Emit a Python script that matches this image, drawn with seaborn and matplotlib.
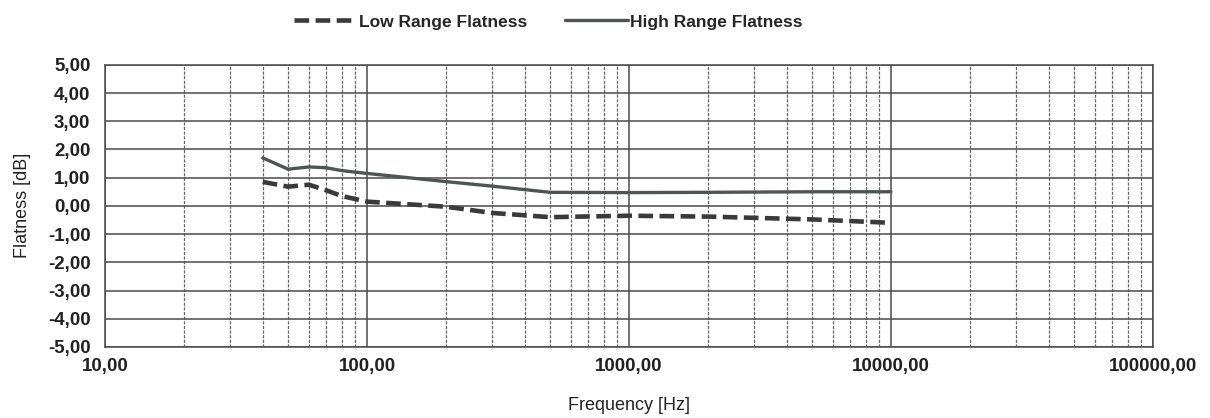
import numpy as np
import pandas as pd
import matplotlib
matplotlib.use("Agg")
import matplotlib.pyplot as plt
import matplotlib.ticker as mticker
import seaborn as sns

# Valeurs
low_freq = [40, 50, 60, 70, 80, 100, 200, 300, 500, 1000, 2000, 5000, 10000]
low_flatness = [0.85, 0.68, 0.75, 0.55, 0.35, 0.15, -0.03, -0.25, -0.40, -0.35, -0.38, -0.48, -0.60]

high_freq = [40, 50, 60, 70, 80, 100, 200, 300, 500, 1000, 2000, 5000, 10000]
high_flatness = [1.70, 1.30, 1.38, 1.35, 1.25, 1.15, 0.86, 0.70, 0.48, 0.47, 0.48, 0.50, 0.50]

y_ticks = [-5, -4, -3, -2, -1, 0, 1, 2, 3, 4, 5]
x_ticks = [10, 100, 1000, 10000, 100000]

low_df = pd.DataFrame({"freq": low_freq, "flatness": low_flatness})
high_df = pd.DataFrame({"freq": high_freq, "flatness": high_flatness})

sns.set_style("white")
plt.rcParams['font.family'] = ['Liberation Sans', 'DejaVu Sans']

fig = plt.figure(figsize=(12.1, 4.18), dpi=100)
ax = fig.add_axes([0.0868, 0.170, 0.866, 0.675])

ax.set_xscale("log")
ax.set_xlim(10, 100000)
ax.set_ylim(-5, 5)

# Grille
ax.set_yticks(y_ticks)
ax.set_xticks(x_ticks)
ax.xaxis.set_minor_locator(mticker.LogLocator(base=10, subs=np.arange(2, 10)))
ax.grid(which="major", axis="both", color="#4a4a4a", linewidth=1.1, linestyle="-")
ax.grid(which="minor", axis="x", color="#666666", linewidth=0.9, linestyle=(0, (2.5, 1.2)))
ax.set_axisbelow(True)

sns.lineplot(data=low_df, x="freq", y="flatness", ax=ax, color="#3a3a3a",
             linewidth=3.3, linestyle=(0, (3.2, 1.4)), label="Low Range Flatness")
sns.lineplot(data=high_df, x="freq", y="flatness", ax=ax, color="#4f5552",
             linewidth=2.4, label="High Range Flatness")

fmt = lambda v, pos: f"{v:.2f}".replace(".", ",")
ax.xaxis.set_major_formatter(mticker.FuncFormatter(fmt))
ax.xaxis.set_minor_formatter(mticker.NullFormatter())
ax.yaxis.set_major_formatter(mticker.FuncFormatter(fmt))
ax.tick_params(axis="x", which="both", length=0, labelsize=13.5, pad=8, colors="#222222")
ax.tick_params(axis="y", which="major", length=7, width=1.1, direction="inout",
               labelsize=13.5, pad=7, colors="#222222")
for lbl in ax.get_xticklabels() + ax.get_yticklabels():
    lbl.set_fontweight("bold")

ax.set_xlabel("Frequency [Hz]", fontsize=13, color="#222222", labelpad=16)
ax.set_ylabel("Flatness [dB]", fontsize=13, color="#222222", labelpad=12)

for sp in ax.spines.values():
    sp.set_color("#4a4a4a")
    sp.set_linewidth(1.1)

handles, labels = ax.get_legend_handles_labels()
ax.get_legend().remove()
fig.legend(handles, labels, loc="upper center", bbox_to_anchor=(0.453, 1.003), ncol=2,
           frameon=False, handlelength=3.6, columnspacing=2.2, handletextpad=0.15,
           prop={"family": ["Liberation Sans Narrow", "Liberation Sans"], "weight": "bold", "size": 12.5})

fig.savefig("out.png", dpi=100)
